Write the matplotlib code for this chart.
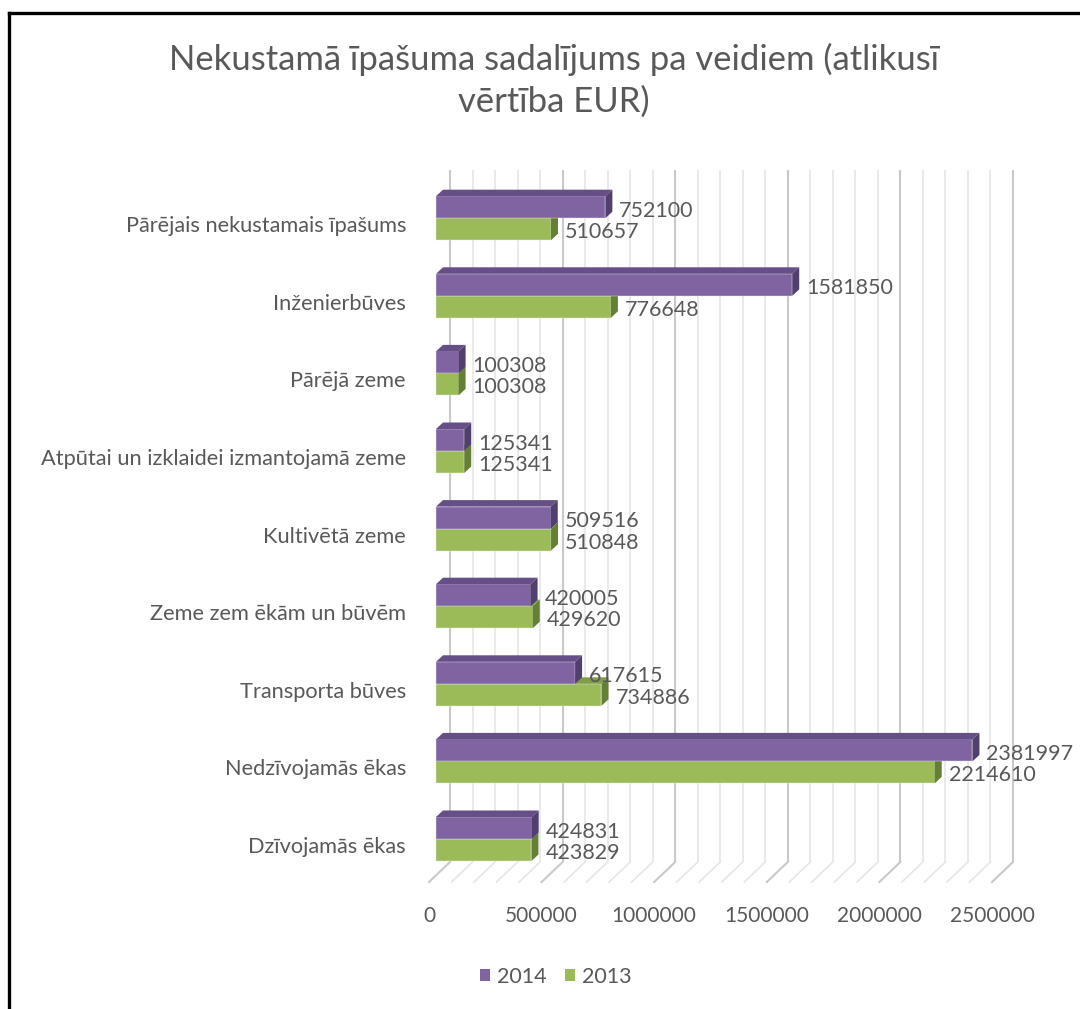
import matplotlib
matplotlib.use("Agg")
import matplotlib.pyplot as plt
from matplotlib.patches import Polygon, Patch
from matplotlib.lines import Line2D

# ---------------- data ----------------
categories = [
    "Dzīvojamās ēkas",
    "Nedzīvojamās ēkas",
    "Transporta būves",
    "Zeme zem ēkām un būvēm",
    "Kultivētā zeme",
    "Atpūtai un izklaidei izmantojamā zeme",
    "Pārējā zeme",
    "Inženierbūves",
    "Pārējais nekustamais īpašums",
]
values_2014 = [424831, 2381997, 617615, 420005, 509516, 125341, 100308, 1581850, 752100]
values_2013 = [423829, 2214610, 734886, 429620, 510848, 125341, 100308, 776648, 510657]
series_names = ["2014", "2013"]
x_ticks = [0, 500000, 1000000, 1500000, 2000000, 2500000]
x_max = 2500000
grid_step = 100000
title = "Nekustamā īpašuma sadalījums pa veidiem (atlikusī\nvērtība EUR)"

# ---------------- style ----------------
plt.rcParams["font.family"] = ["Lato", "DejaVu Sans"]
TXT = "#595959"
P_FRONT, P_TOP, P_SIDE = "#8064A2", "#654F86", "#513F6D"
G_FRONT, G_TOP, G_SIDE = "#9BBB59", "#7F9C46", "#667F36"
GRID_MINOR, GRID_MAJOR = "#E6E6E6", "#C9C9C9"

W, H = 1080, 1009
fig = plt.figure(figsize=(W / 100, H / 100), dpi=100)

# axes box in pixels (from left / from top)
ax_l, ax_r, ax_t, ax_b = 416, 1070, 150, 900
ax = fig.add_axes([ax_l / W, 1 - ax_b / H, (ax_r - ax_l) / W, (ax_b - ax_t) / H])

x0_px = 436                # pixel of value 0 on the bar front plane
sx = 563 / x_max           # pixels per value unit
cat_px = 77.6              # pixels per category
split0_px = 839            # pixel row of first category centre
ax.set_xlim(-(x0_px - ax_l) / sx, (ax_r - x0_px) / sx)
ax.set_ylim(-(ax_b - split0_px) / cat_px, (split0_px - ax_t) / cat_px)
PX = 1 / sx                # value units per pixel
PY = 1 / cat_px            # category units per pixel

for s in ax.spines.values():
    s.set_visible(False)

# --- 3D frame: back wall gridlines + floor lines ---
wall_top = (split0_px - 170) * PY
floor_back = -23 * PY
floor_front = -43 * PY
back_dx = 14 * PX
front_dx = -7 * PX
for k in range(0, int(x_max / grid_step) + 1):
    v = k * grid_step
    major = (v % 500000 == 0)
    c = GRID_MAJOR if major else GRID_MINOR
    lw = 1.5 if major else 1.2
    ax.plot([v + back_dx, v + back_dx], [floor_back, wall_top], color=c, lw=lw, zorder=1,
            solid_capstyle="butt")
    ax.plot([v + front_dx, v + back_dx], [floor_front, floor_back], color=c, lw=lw, zorder=1)

# --- bars with depth ---
h = 22 * PY
ddx = 7 * PX
ddy = 6.5 * PY

def box(v, y0, y1, front, top, side, z):
    ax.barh((y0 + y1) / 2, v, height=y1 - y0, left=0, color=front,
            edgecolor="#E8E8F0", linewidth=0.3, zorder=z)
    ax.add_patch(Polygon([(0, y1), (v, y1), (v + ddx, y1 + ddy), (ddx, y1 + ddy)],
                         closed=True, facecolor=top, edgecolor="none", zorder=z))
    ax.add_patch(Polygon([(v, y0), (v + ddx, y0 + ddy), (v + ddx, y1 + ddy), (v, y1)],
                         closed=True, facecolor=side, edgecolor="none", zorder=z))

for i, (v14, v13) in enumerate(zip(values_2014, values_2013)):
    box(v13, i - h, i, G_FRONT, G_TOP, G_SIDE, 3 + i * 0.01)
    box(v14, i, i + h, P_FRONT, P_TOP, P_SIDE, 3.005 + i * 0.01)
    ax.text(v14 + 14 * PX, i + 1.5 * PY, f"{v14}", fontsize=15.5, color=TXT,
            ha="left", va="baseline", zorder=5)
    ax.text(v13 + 14 * PX, i - 20 * PY, f"{v13}", fontsize=15.5, color=TXT,
            ha="left", va="baseline", zorder=5)

# --- category axis ---
ax.set_yticks([i - 14 * PY for i in range(len(categories))])
ax.set_yticklabels(categories, fontsize=15.7, color=TXT)
for lab in ax.get_yticklabels():
    lab.set_va("baseline")
ax.tick_params(axis="y", length=0, pad=7.2)

# --- value axis ---
ax.set_xticks([v + front_dx for v in x_ticks])
ax.set_xticklabels([str(v) for v in x_ticks], fontsize=15, color=TXT)
ax.tick_params(axis="x", length=0, pad=4)

# --- title ---
fig.text(554 / W, 1 - 43 / H, title, ha="center", va="top", fontsize=24.9,
         color=TXT, linespacing=1.35)

# --- legend ---
handles = [Patch(facecolor=P_FRONT, edgecolor="none"), Patch(facecolor=G_FRONT, edgecolor="none")]
fig.legend(handles, series_names, loc="center", bbox_to_anchor=(556 / W, 1 - 977 / H),
           ncol=2, frameon=False, fontsize=15.5, labelcolor=TXT,
           handlelength=0.47, handleheight=0.47, handletextpad=0.33, columnspacing=0.84)

# --- outer frame (top and left edges visible) ---
fig.add_artist(Line2D([9 / W, 1], [1 - 13 / H, 1 - 13 / H], transform=fig.transFigure,
                      color="black", lw=2.4))
fig.add_artist(Line2D([9 / W, 9 / W], [0, 1 - 13 / H], transform=fig.transFigure,
                      color="black", lw=2.4))

fig.savefig("out.png", dpi=100, facecolor="white")
